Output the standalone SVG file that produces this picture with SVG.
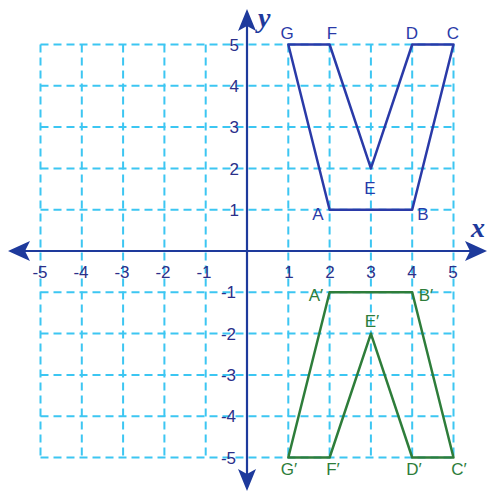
<svg xmlns="http://www.w3.org/2000/svg" width="490" height="493" viewBox="0 0 490 493">
<style>
.grid{stroke:#3cc6f2;stroke-width:2;stroke-dasharray:8 5;fill:none}
.axis{stroke:#1e3a9c;stroke-width:2.2;fill:none}
.ah{fill:#1e3a9c}
.num{font-family:"Liberation Sans",Arial,sans-serif;font-size:17px;fill:#2b2f8a;text-anchor:middle}
.ynum{font-family:"Liberation Sans",Arial,sans-serif;font-size:17px;fill:#2b2f8a;text-anchor:end}
.lb{font-family:"Liberation Sans",Arial,sans-serif;font-size:17px;fill:#2a3aa8;text-anchor:middle}
.lg{font-family:"Liberation Sans",Arial,sans-serif;font-size:17px;fill:#2e7d3a;text-anchor:middle}
.ax{font-family:"Liberation Serif","Times New Roman",serif;font-style:italic;font-weight:bold;font-size:28px;fill:#1e3a9c}
</style>
<rect width="490" height="493" fill="#ffffff"/>
<g id="grid">
<path class="grid" d="M40.5,44.5V457.5M81.8,44.5V457.5M123.1,44.5V457.5M164.4,44.5V457.5M205.7,44.5V457.5M288.3,44.5V457.5M329.6,44.5V457.5M370.9,44.5V457.5M412.2,44.5V457.5M453.5,44.5V457.5"/>
<path class="grid" d="M40.5,44.5H453.5M40.5,85.8H453.5M40.5,127.1H453.5M40.5,168.4H453.5M40.5,209.7H453.5M40.5,292.3H453.5M40.5,333.6H453.5M40.5,374.9H453.5M40.5,416.2H453.5M40.5,457.5H453.5"/>
</g>
<g id="axes">
<path class="axis" d="M14,251H481M247,14V486"/>
<path class="ah" d="M8,251L30,241L25,251L30,261Z"/>
<path class="ah" d="M487,251L465,241L470,251L465,261Z"/>
<path class="ah" d="M247,9L256,31L247,26L238,31Z"/>
<path class="ah" d="M247,491L256,469L247,474L238,469Z"/>
<text class="ax" x="258" y="27">y</text>
<text class="ax" x="471" y="237">x</text>
</g>
<g id="ticks">
<text class="num" x="40" y="278">-5</text>
<text class="num" x="81" y="278">-4</text>
<text class="num" x="122" y="278">-3</text>
<text class="num" x="163" y="278">-2</text>
<text class="num" x="204" y="278">-1</text>
<text class="num" x="289" y="278">1</text>
<text class="num" x="330" y="278">2</text>
<text class="num" x="371" y="278">3</text>
<text class="num" x="412" y="278">4</text>
<text class="num" x="453" y="278">5</text>
<text class="ynum" x="239" y="51">5</text>
<text class="ynum" x="239" y="92">4</text>
<text class="ynum" x="239" y="133">3</text>
<text class="ynum" x="239" y="175">2</text>
<text class="ynum" x="239" y="216">1</text>
<text class="ynum" x="236" y="298">-1</text>
<text class="ynum" x="236" y="340">-2</text>
<text class="ynum" x="236" y="381">-3</text>
<text class="ynum" x="236" y="422">-4</text>
<text class="ynum" x="236" y="464">-5</text>
</g>
<g id="shapeV">
<polygon points="288.3,44.5 329.6,44.5 370.9,168.4 412.2,44.5 453.5,44.5 412.2,209.7 329.6,209.7" fill="none" stroke="#2a3aa8" stroke-width="2.5" stroke-linejoin="round"/>
<text class="lb" x="287" y="39">G</text>
<text class="lb" x="332" y="39">F</text>
<text class="lb" x="412" y="39">D</text>
<text class="lb" x="453" y="39">C</text>
<text class="lb" x="370" y="194">E</text>
<text class="lb" x="318" y="220">A</text>
<text class="lb" x="423" y="220">B</text>
</g>
<g id="shapeA">
<polygon points="329.6,292.3 412.2,292.3 453.5,457.5 412.2,457.5 370.9,333.6 329.6,457.5 288.3,457.5" fill="none" stroke="#2e7d3a" stroke-width="2.5" stroke-linejoin="round"/>
<text class="lg" x="316" y="301">A′</text>
<text class="lg" x="426" y="301">B′</text>
<text class="lg" x="372" y="327">E′</text>
<text class="lg" x="289" y="475">G′</text>
<text class="lg" x="333" y="475">F′</text>
<text class="lg" x="414" y="475">D′</text>
<text class="lg" x="459" y="475">C′</text>
</g>
</svg>
